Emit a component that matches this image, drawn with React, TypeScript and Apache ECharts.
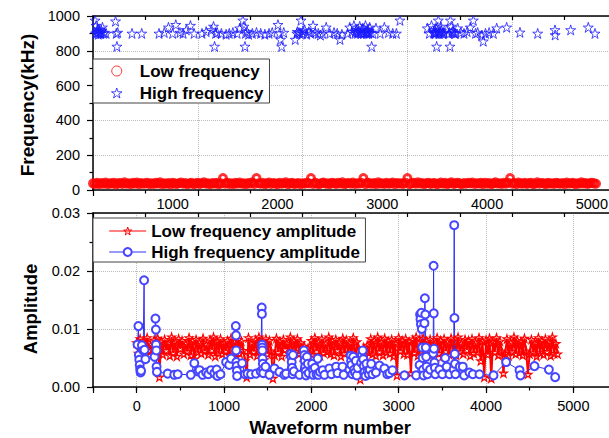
import React, { useEffect, useRef } from 'react';
import * as echarts from 'echarts';

const FONT = "'Liberation Sans', Arial, Helvetica, sans-serif";
const STAR = 'path://M50 0 L61.2 34.5 L97.6 34.5 L68.2 55.9 L79.4 90.5 L50 69.1 L20.6 90.5 L31.8 55.9 L2.4 34.5 L38.8 34.5 Z';

// Dense low-frequency events: one sample every WAVE_STEP waveforms, starting at waveform 0
const WAVE_STEP = 20;

// Low frequency (kHz), waveforms 0..4800
const lowFreqKHz = [
  38, 35, 41, 33, 40, 36, 43, 34, 39, 37, 42, 32, 38, 40, 35, 44, 36, 39, 33, 41,
  37, 43, 34, 40, 36, 38, 42, 33, 39, 35, 41, 37, 44, 34, 38, 36, 40, 32, 42, 37,
  35, 39, 43, 36, 40, 33, 38, 41, 34, 37, 42, 35, 39, 44, 36, 38, 33, 40, 37, 41,
  34, 38, 69, 36, 42, 35, 39, 33, 41, 37, 43, 36, 38, 34, 40, 37, 44, 35, 69, 39,
  36, 41, 33, 38, 43, 35, 40, 37, 34, 42, 36, 39, 44, 33, 38, 41, 35, 37, 40, 34,
  39, 36, 42, 38, 69, 35, 41, 37, 33, 40, 43, 36, 38, 34, 42, 39, 35, 41, 37, 44,
  33, 38, 40, 36, 43, 35, 39, 37, 41, 69, 34, 42, 38, 36, 40, 33, 44, 37, 39, 35,
  41, 36, 38, 43, 34, 40, 37, 39, 35, 42, 69, 33, 38, 41, 36, 44, 37, 40, 34, 39,
  42, 35, 38, 40, 33, 37, 43, 36, 41, 34, 39, 44, 35, 38, 42, 37, 33, 40, 36, 41,
  38, 43, 35, 39, 37, 41, 34, 42, 36, 40, 33, 38, 44, 37, 39, 35, 41, 36, 42, 69,
  37, 40, 34, 43, 38, 36, 41, 35, 39, 42, 33, 37, 44, 36, 40, 38, 34, 41, 37, 39,
  35, 42, 38, 36, 40, 33, 43, 37, 39, 41, 34, 38, 36, 44, 37, 40, 35, 39, 42, 38,
  36,
];

// Low frequency amplitude (x 1e-4), waveforms 0..4820
const lowAmpX1e4 = [
  76, 58, 83, 62, 79, 55, 85, 64, 72, 57, 81, 60, 84, 17, 78, 56, 82, 63, 75, 54,
  86, 59, 77, 53, 83, 66, 80, 57, 74, 61, 85, 55, 79, 48, 82, 60, 76, 58, 84, 62,
  73, 56, 81, 64, 86, 53, 78, 59, 83, 57, 75, 62, 80, 55, 84, 60, 77, 52, 82, 58,
  79, 63, 45, 17, 85, 56, 74, 61, 81, 54, 86, 59, 76, 47, 83, 57, 80, 62, 15, 55,
  84, 60, 78, 53, 82, 65, 75, 58, 86, 55, 79, 61, 83, 57, 76, 52, 70, 58, 66, 60,
  80, 56, 85, 62, 77, 54, 83, 59, 74, 61, 86, 57, 79, 55, 82, 63, 76, 53, 84, 58,
  81, 60, 75, 56, 85, 48, 78, 62, 13, 52, 68, 55, 72, 59, 83, 57, 80, 54, 86, 61,
  77, 55, 84, 60, 79, 58, 82, 53, 75, 20, 85, 62, 80, 57, 83, 56, 78, 24, 81, 59,
  86, 54, 76, 61, 84, 57, 79, 63, 82, 55, 74, 60, 85, 58, 80, 53, 83, 62, 77, 56,
  84, 59, 78, 55, 86, 61, 75, 57, 82, 64, 80, 54, 83, 58, 76, 60, 85, 45, 79, 17,
  81, 56, 84, 15, 77, 60, 85, 55, 79, 62, 24, 58, 83, 54, 76, 61, 86, 57, 80, 59,
  78, 55, 84, 62, 22, 57, 82, 60, 75, 53, 85, 59, 79, 56, 83, 61, 77, 54, 86, 58,
  75, 57,
];

// High frequency events seen in the top panel: waveform number and frequency (kHz)
const highFreqWave = [
  20, 25, 30, 35, 40, 50, 60, 75, 90, 110,
  125, 215, 222, 228, 235, 372, 465, 630, 680, 720,
  760, 790, 830, 860, 890, 930, 965, 1040, 1080, 1130,
  1150, 1160, 1170, 1185, 1225, 1270, 1300, 1335, 1375, 1400,
  1430, 1440, 1450, 1455, 1470, 1485, 1520, 1560, 1600, 1640,
  1680, 1710, 1765, 1780, 1790, 1800, 1820, 1930, 1945, 1965,
  1985, 2000, 2020, 2040, 2060, 2080, 2100, 2120, 2150, 2170,
  2190, 2225, 2260, 2300, 2330, 2357, 2375, 2430, 2450, 2470,
  2490, 2500, 2515, 2530, 2545, 2560, 2575, 2590, 2600, 2610,
  2620, 2630, 2640, 2650, 2659, 2670, 2700, 2740, 2780, 2820,
  2860, 2895, 2929, 3190, 3210, 3230, 3250, 3260, 3270, 3279,
  3285, 3295, 3300, 3310, 3320, 3335, 3350, 3375, 3395, 3406,
  3410, 3420, 3440, 3460, 3480, 3510, 3540, 3570, 3600, 3629,
  3650, 3670, 3710, 3724, 3745, 3780, 3820, 3852, 3947, 4074,
  4243, 4408, 4410, 4558, 4726, 4790, 45, 55, 65, 80,
  100, 1950, 1975, 2005, 2505, 2525, 2535, 2555, 2565, 2585,
  2605, 2615, 2625, 2635, 3255, 3265, 3275, 3290, 3305, 3315,
  3325, 3345, 3425, 3435, 3450,
];
const highFreqKHz = [
  975, 900, 945, 905, 920, 895, 910, 900, 935, 905,
  900, 970, 900, 825, 905, 900, 900, 900, 905, 935,
  900, 950, 905, 900, 920, 945, 900, 900, 910, 920,
  940, 825, 900, 905, 900, 895, 900, 905, 900, 930,
  975, 940, 825, 900, 910, 895, 900, 905, 900, 895,
  900, 905, 950, 900, 865, 825, 905, 865, 900, 905,
  975, 900, 920, 895, 910, 900, 945, 905, 900, 890,
  900, 935, 900, 905, 900, 865, 895, 900, 935, 910,
  945, 900, 920, 905, 940, 900, 930, 905, 945, 900,
  920, 900, 935, 905, 825, 900, 930, 900, 935, 905,
  900, 900, 975, 930, 900, 945, 905, 920, 900, 825,
  935, 975, 900, 910, 940, 900, 905, 920, 900, 825,
  975, 940, 905, 900, 930, 905, 900, 910, 935, 975,
  900, 905, 890, 855, 900, 905, 900, 930, 935, 906,
  900, 920, 891, 920, 935, 900, 905, 925, 900, 915,
  900, 910, 900, 915, 910, 900, 915, 905, 920, 900,
  910, 905, 915, 905, 900, 910, 905, 915, 900, 905,
  915, 900, 905, 915, 900,
];

// High frequency amplitude (x 1e-4) by waveform number, bottom panel
const highAmpWave = [
  10, 20, 25, 30, 35, 40, 45, 50, 60, 75,
  85, 90, 100, 205, 215, 220, 222, 225, 228, 232,
  355, 430, 470, 620, 660, 700, 720, 755, 795, 820,
  852, 890, 916, 925, 960, 1024, 1060, 1081, 1135, 1138,
  1140, 1142, 1145, 1148, 1150, 1207, 1240, 1270, 1310, 1367,
  1420, 1432, 1434, 1436, 1438, 1440, 1442, 1444, 1446, 1450,
  1475, 1520, 1577, 1635, 1690, 1711, 1765, 1770, 1775, 1780,
  1785, 1790, 1800, 1864, 1915, 1920, 1925, 1930, 1935, 1940,
  1950, 1960, 1970, 2010, 2016, 2022, 2040, 2060, 2073, 2080,
  2100, 2131, 2150, 2207, 2230, 2284, 2300, 2357, 2370, 2436,
  2450, 2455, 2460, 2470, 2480, 2490, 2500, 2510, 2520, 2530,
  2570, 2580, 2588, 2595, 2600, 2610, 2620, 2630, 2645, 2659,
  2670, 2685, 2700, 2740, 2780, 2837, 2870, 2894, 2929, 3066,
  3200, 3240, 3245, 3250, 3255, 3260, 3265, 3270, 3275, 3280,
  3285, 3295, 3300, 3305, 3310, 3315, 3320, 3330, 3360, 3395,
  3400, 3402, 3405, 3410, 3415, 3420, 3467, 3500, 3533, 3550,
  3582, 3630, 3636, 3639, 3642, 3645, 3650, 3700, 3734, 3750,
  3811, 3849, 3925, 4086, 4231, 4384, 4395, 4555, 4720, 4792,
];
const highAmpX1e4 = [
  73, 105, 55, 47, 38, 30, 25, 28, 72, 63,
  184, 64, 48, 52, 118, 99, 73, 63, 35, 26,
  23, 21, 22, 21, 41, 27, 29, 21, 25, 22,
  29, 24, 30, 19, 22, 43, 38, 49, 105, 89,
  63, 43, 36, 28, 19, 41, 22, 23, 22, 23,
  27, 137, 126, 73, 68, 63, 49, 40, 30, 24,
  35, 21, 32, 26, 21, 23, 57, 52, 43, 33,
  22, 55, 27, 21, 63, 55, 45, 35, 27, 20,
  52, 40, 24, 40, 30, 21, 33, 22, 49, 21,
  26, 29, 21, 32, 22, 35, 24, 35, 21, 30,
  54, 45, 38, 22, 52, 30, 25, 45, 20, 33,
  42, 55, 63, 48, 36, 26, 19, 40, 28, 22,
  30, 40, 22, 25, 37, 32, 22, 24, 29, 20,
  20, 38, 125, 117, 108, 128, 100, 68, 50, 30,
  20, 110, 153, 125, 68, 52, 35, 22, 30, 58,
  209, 127, 66, 42, 33, 22, 30, 22, 50, 35,
  22, 30, 279, 119, 57, 40, 22, 35, 35, 20,
  25, 22, 22, 20, 43, 29, 20, 36, 30, 17,
];

const axisLineStyle = { color: '#000', width: 1.5 };
const tickLineStyle = { color: '#000', width: 1.2 };
const gridLineStyle = { color: '#bcbcbc', type: 'dotted' as const, width: 1 };
const labelStyle = { fontSize: 14.5, color: '#000', fontFamily: FONT };

export default function App() {
  const ref = useRef<HTMLDivElement>(null);

  useEffect(() => {
    if (!ref.current) return;
    const chart = echarts.init(ref.current, undefined, { renderer: 'svg' });

    const lowFreqData = lowFreqKHz.map((v, i) => [i * WAVE_STEP, v]);
    const lowAmpData = lowAmpX1e4.map((v, i) => [i * WAVE_STEP, v / 10000]);
    const highFreqData = highFreqWave.map((w, i) => [w, highFreqKHz[i]]);
    const highAmpData = highAmpWave.map((w, i) => [w, highAmpX1e4[i] / 10000]);

    const option: any = {
      animation: false,
      backgroundColor: '#ffffff',
      textStyle: { fontFamily: FONT },
      grid: [
        { left: 93, top: 16, width: 524, height: 174 },
        { left: 93, top: 213, width: 524, height: 174 },
      ],
      xAxis: [
        {
          gridIndex: 0, type: 'value', position: 'bottom', min: 0, max: 5000, interval: 1000,
          axisLine: { show: true, onZero: false, lineStyle: axisLineStyle },
          axisTick: { show: true, length: 6, lineStyle: tickLineStyle },
          minorTick: { show: true, splitNumber: 2, length: 3.5, lineStyle: tickLineStyle },
          axisLabel: {
            ...labelStyle, align: 'right', padding: [0, 9, 0, 0], margin: 6,
            formatter: (v: number) => (v === 0 ? '' : String(v)),
          },
          splitLine: { show: true, lineStyle: gridLineStyle },
        },
        {
          gridIndex: 0, type: 'value', position: 'top', min: 0, max: 5000, interval: 500,
          axisLine: { show: true, onZero: false, lineStyle: axisLineStyle },
          axisTick: { show: true, inside: true, length: 4, lineStyle: tickLineStyle },
          axisLabel: { show: false },
          splitLine: { show: false },
        },
        {
          gridIndex: 1, type: 'value', position: 'bottom', min: -500, max: 5500, splitNumber: 6,
          axisLine: { show: true, onZero: false, lineStyle: axisLineStyle },
          axisTick: { show: true, length: 6, lineStyle: tickLineStyle },
          axisLabel: {
            ...labelStyle, margin: 11,
            formatter: (v: number) => (v % 1000 === 0 && v >= 0 && v <= 5000 ? String(v) : ''),
          },
          splitLine: { show: true, lineStyle: gridLineStyle },
        },
        {
          gridIndex: 1, type: 'value', position: 'bottom', min: -500, max: 5500, interval: 500,
          axisLine: { show: false },
          axisTick: { show: true, length: 3.5, lineStyle: tickLineStyle },
          axisLabel: { show: false },
          splitLine: { show: false },
        },
        {
          gridIndex: 1, type: 'value', position: 'top', min: 0, max: 5000, interval: 500,
          axisLine: { show: true, onZero: false, lineStyle: axisLineStyle },
          axisTick: { show: true, inside: true, length: 4, lineStyle: tickLineStyle },
          axisLabel: { show: false },
          splitLine: { show: false },
        },
      ],
      yAxis: [
        {
          gridIndex: 0, type: 'value', min: 0, max: 1000, interval: 200,
          axisLine: { show: true, onZero: false, lineStyle: axisLineStyle },
          axisTick: { show: true, length: 6, lineStyle: tickLineStyle },
          minorTick: { show: true, splitNumber: 2, length: 3.5, lineStyle: tickLineStyle },
          axisLabel: { ...labelStyle, margin: 13, formatter: (v: number) => String(v) },
          splitLine: { show: true, lineStyle: gridLineStyle },
        },
        {
          gridIndex: 1, type: 'value', min: 0, max: 0.03, interval: 0.01,
          axisLine: { show: true, onZero: false, lineStyle: axisLineStyle },
          axisTick: { show: true, length: 6, lineStyle: tickLineStyle },
          minorTick: { show: true, splitNumber: 2, length: 3.5, lineStyle: tickLineStyle },
          axisLabel: { ...labelStyle, margin: 13, formatter: (v: number) => v.toFixed(2) },
          splitLine: { show: true, lineStyle: gridLineStyle },
        },
      ],
      legend: [
        {
          data: ['Low frequency', 'High frequency'],
          orient: 'vertical', left: 93, top: 59,
          padding: [3.5, 6, 1.5, 18], itemWidth: 36, itemHeight: 10, itemGap: 5,
          borderColor: '#444', borderWidth: 1, backgroundColor: '#fff',
          selectedMode: false,
          itemStyle: { borderWidth: 1 },
          textStyle: { fontSize: 17, fontWeight: 'bold', color: '#000', fontFamily: FONT },
        },
        {
          data: ['Low frequency amplitude', 'High frequency amplitude'],
          orient: 'vertical', left: 93, top: 218,
          padding: [4.5, 5.5, 1.5, 15.7], itemWidth: 37, itemHeight: 10, itemGap: 4,
          borderColor: '#444', borderWidth: 1, backgroundColor: '#fff',
          selectedMode: false,
          itemStyle: { borderWidth: 1 },
          lineStyle: { width: 1 },
          textStyle: { fontSize: 17, fontWeight: 'bold', color: '#000', fontFamily: FONT },
        },
      ],
      graphic: [
        {
          type: 'text', x: 27, y: 105, rotation: Math.PI / 2,
          style: {
            text: 'Frequency(kHz)', fontSize: 19, fontWeight: 'bold', fontFamily: FONT, fill: '#000',
            align: 'center', verticalAlign: 'middle', textAlign: 'center', textVerticalAlign: 'middle',
          },
        },
        {
          type: 'text', x: 30, y: 309, rotation: Math.PI / 2,
          style: {
            text: 'Amplitude', fontSize: 18.5, fontWeight: 'bold', fontFamily: FONT, fill: '#000',
            align: 'center', verticalAlign: 'middle', textAlign: 'center', textVerticalAlign: 'middle',
          },
        },
        {
          type: 'text', x: 330, y: 427,
          style: {
            text: 'Waveform number', fontSize: 18.5, fontWeight: 'bold', fontFamily: FONT, fill: '#000',
            align: 'center', verticalAlign: 'middle', textAlign: 'center', textVerticalAlign: 'middle',
          },
        },
      ],
      series: [
        {
          name: 'Low frequency', type: 'scatter', xAxisIndex: 0, yAxisIndex: 0,
          symbol: 'circle', symbolSize: 7, data: lowFreqData,
          itemStyle: { color: 'rgba(255,0,0,0)', borderColor: '#ff0000', borderWidth: 3 },
        },
        {
          name: 'High frequency', type: 'scatter', xAxisIndex: 0, yAxisIndex: 0,
          symbol: STAR, symbolSize: 10, data: highFreqData,
          itemStyle: { color: 'rgba(0,0,255,0)', borderColor: '#1a1aff', borderWidth: 1 },
        },
        {
          name: 'Low frequency amplitude', type: 'line', xAxisIndex: 2, yAxisIndex: 1,
          symbol: STAR, symbolSize: 8, showSymbol: true, data: lowAmpData,
          color: '#ff0000',
          lineStyle: { color: '#ff0000', width: 2 },
          itemStyle: { color: 'rgba(255,0,0,0)', borderColor: '#ff0000', borderWidth: 1.2 },
        },
        {
          name: 'High frequency amplitude', type: 'line', xAxisIndex: 2, yAxisIndex: 1,
          symbol: 'emptyCircle', symbolSize: 8, showSymbol: true, data: highAmpData,
          color: '#4646ff',
          lineStyle: { color: '#3030f0', width: 1 },
          itemStyle: { color: '#4646ff', borderWidth: 1 },
        },
      ],
    };

    chart.setOption(option);
    return () => chart.dispose();
  }, []);

  return (
    <div style={{ position: 'fixed', left: 0, top: 0, width: 609, height: 438, overflow: 'hidden', background: '#fff' }}>
      <div ref={ref} style={{ width: 640, height: 438 }} />
    </div>
  );
}
